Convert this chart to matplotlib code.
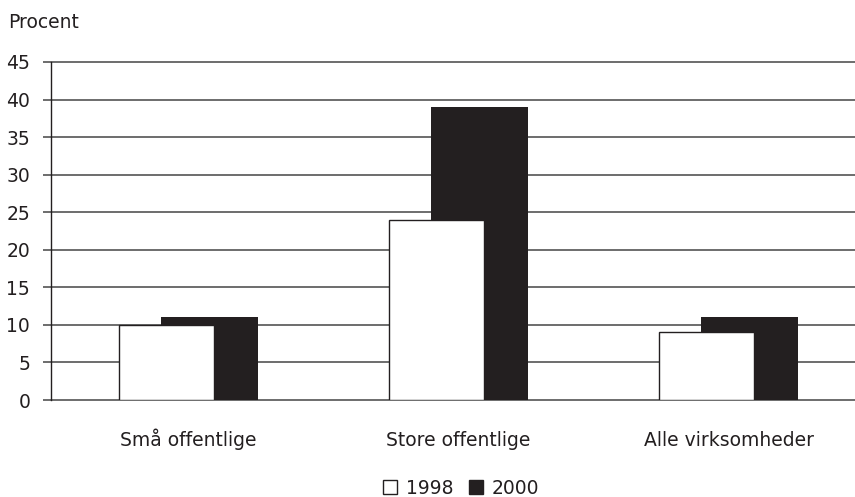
import matplotlib
matplotlib.use("Agg")
import matplotlib.pyplot as plt
from matplotlib.patches import Patch
import numpy as np

categories = ["Små offentlige", "Store offentlige", "Alle virksomheder"]
v1998 = [10, 24, 9]
v2000 = [11, 39, 11]
yticks = [0, 5, 10, 15, 20, 25, 30, 35, 40, 45]

ink = "#231f20"
grid = "#6d6d6d"
fs = 13.5

fig = plt.figure(figsize=(8.55, 4.97), dpi=100)
ax = fig.add_axes([51/855, (497-400)/497, 1 - 51/855, (400-62)/497])

x = np.arange(len(categories))
ax.bar(x + 0.0775, v2000, width=0.359, color=ink, edgecolor=ink, linewidth=0, zorder=3)
ax.bar(x - 0.081, v1998, width=0.352, color="white", edgecolor=ink, linewidth=1.0, zorder=4)

ax.set_xlim(-0.509, 2.468)
ax.set_ylim(0, 45)
ax.set_yticks(yticks)
for t in yticks:
    ax.axhline(t, color=grid, lw=1.4, zorder=1, clip_on=False)
ax.set_xticks(x)
ax.set_xticklabels(categories, va="baseline")
for s in ["top", "right", "bottom"]:
    ax.spines[s].set_visible(False)
ax.spines["left"].set_color(ink)
ax.spines["left"].set_linewidth(1.0)
ax.spines["left"].set_zorder(5)
ax.tick_params(axis="y", length=6, width=1.4, color=grid, pad=9, labelsize=fs, labelcolor=ink)
ax.tick_params(axis="x", length=0, pad=33, labelsize=fs, labelcolor=ink)

fig.text(8/855, 1 - 22/497, "Procent", fontsize=fs, color=ink, va="center", ha="left")

handles = [Patch(facecolor="white", edgecolor=ink, linewidth=1.0, label="1998"),
           Patch(facecolor=ink, edgecolor=ink, label="2000")]
fig.legend(handles=handles, loc="center", bbox_to_anchor=(461/855, 1 - 488/497), ncol=2,
           frameon=False, fontsize=fs, handlelength=0.75, handleheight=0.75,
           handletextpad=0.5, columnspacing=0.8, labelcolor=ink)

fig.savefig("out.png", dpi=100)
